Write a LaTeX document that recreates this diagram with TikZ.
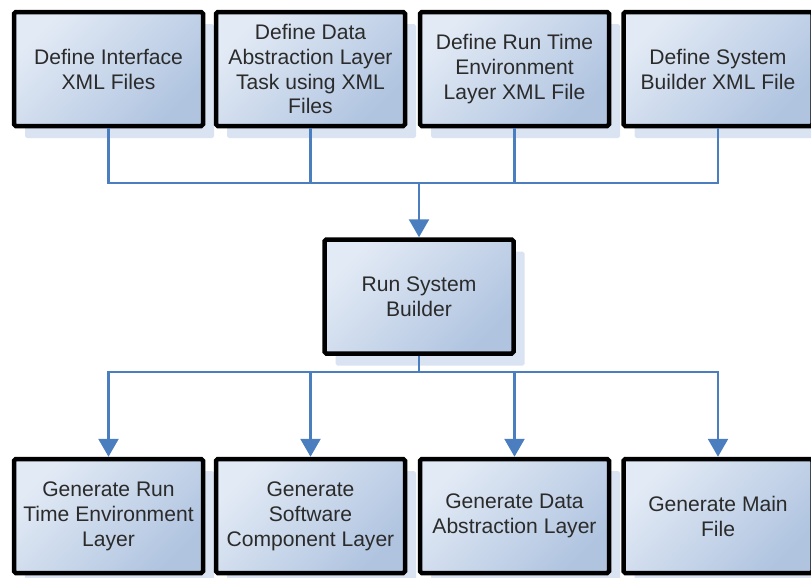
\documentclass[tikz,border=0pt]{standalone}
\usepackage{fontspec}
\setmainfont{Liberation Sans}
\usetikzlibrary{arrows.meta,shadows}

\definecolor{boxlight}{HTML}{E2EAF5}
\definecolor{boxdark}{HTML}{B0C4E0}
\definecolor{shadowblue}{HTML}{DAE3F1}
\definecolor{linkblue}{HTML}{4A7EBF}
\definecolor{textgray}{HTML}{2B2B2B}

\tikzset{
  stepbox/.style={draw=black, line width=0.09cm, rounded corners=1pt,
    minimum width=3.78cm, minimum height=2.28cm, align=center,
    top color=boxlight, bottom color=boxdark, shading angle=45,
    text=textgray, font=\fontsize{12}{14.2}\selectfont,
    drop shadow={shadow xshift=0.22cm, shadow yshift=-0.24cm,
      fill=shadowblue, opacity=1}},
  link/.style={draw=linkblue, line width=0.05cm},
  flow/.style={link, -{Triangle[width=0.4cm,length=0.36cm]}}
}

\begin{document}
\begin{tikzpicture}
\useasboundingbox (0,0) rectangle (16.22,-11.54);

% definition steps
\node[stepbox] (defif) at (2.17,-1.38) {Define Interface\\XML Files};
\node[stepbox] (defdal) at (6.21,-1.38) {Define Data\\Abstraction Layer\\Task using XML\\Files};
\node[stepbox] (defrte) at (10.29,-1.38) {Define Run Time\\Environment\\Layer XML File};
\node[stepbox] (defsb) at (14.36,-1.38) {Define System\\Builder XML File};

\node[stepbox] (runsb) at (8.38,-5.93) {Run System\\Builder};

% generated output
\node[stepbox] (genrte) at (2.17,-10.32) {Generate Run\\Time Environment\\Layer};
\node[stepbox] (gensw) at (6.21,-10.32) {Generate\\Software\\Component Layer};
\node[stepbox] (gendal) at (10.29,-10.32) {Generate Data\\Abstraction Layer};
\node[stepbox] (genmain) at (14.36,-10.32) {Generate Main\\File};

\coordinate (bustop) at (8.38,-3.66);
\coordinate (busbot) at (8.38,-7.44);

\draw[link] (defif.south) |- (bustop) -| (defsb.south);
\draw[link] (defdal.south) -- (defdal.south |- bustop);
\draw[link] (defrte.south) -- (defrte.south |- bustop);
\draw[flow] (bustop) -- (runsb.north);

\draw[link] (runsb.south) -- (busbot);
\draw[flow] (busbot) -| (genrte.north);
\draw[flow] (busbot) -| (genmain.north);
\draw[flow] (gensw.north |- busbot) -- (gensw.north);
\draw[flow] (gendal.north |- busbot) -- (gendal.north);
\end{tikzpicture}
\end{document}
